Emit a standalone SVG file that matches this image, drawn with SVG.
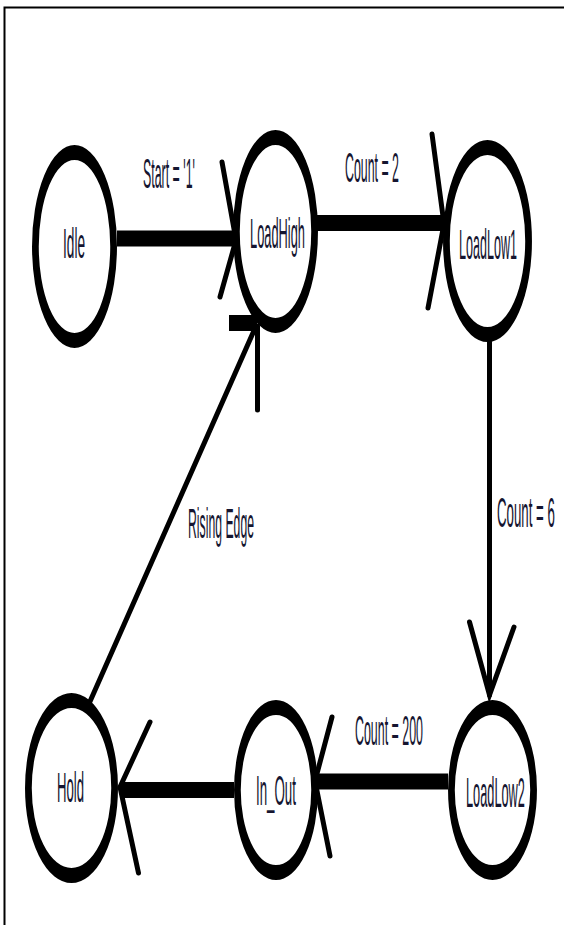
<svg xmlns="http://www.w3.org/2000/svg" width="564" height="925" viewBox="0 0 564 925">
<style>
.node ellipse{fill:none;stroke:#000;stroke-width:15}
text{font-family:"Liberation Sans",Arial,sans-serif;font-size:42px;fill:#151530}
.bar{stroke:#000;stroke-width:16;fill:none}
.ln{stroke:#000;stroke-width:5;fill:none;stroke-linecap:round}
.arm{stroke:#000;stroke-width:5;fill:none;stroke-linecap:round}
</style>
<rect x="0" y="0" width="564" height="925" fill="#fff"/>
<path d="M4.5,925 V7.5 H564" fill="none" stroke="#000" stroke-width="2"/>

<g id="idle" class="node">
<ellipse transform="translate(74.5,246.5) scale(0.45,1)" cx="0" cy="0" rx="86.9" ry="94"/>
<text transform="translate(63,258) scale(0.325,1)">Idle</text>
</g>
<g id="loadhigh" class="node">
<ellipse transform="translate(275.5,231.5) scale(0.45,1)" cx="0" cy="0" rx="86.9" ry="94"/>
<text transform="translate(250,248) scale(0.306,1)">LoadHigh</text>
</g>
<g id="loadlow1" class="node">
<ellipse transform="translate(487.5,241) scale(0.45,1)" cx="0" cy="0" rx="91.3" ry="93.5"/>
<text transform="translate(459,259) scale(0.299,1)">LoadLow1</text>
</g>
<g id="loadlow2" class="node">
<ellipse transform="translate(492.5,790) scale(0.45,1)" cx="0" cy="0" rx="91.3" ry="82.5"/>
<text transform="translate(466,807) scale(0.304,1)">LoadLow2</text>
</g>
<g id="in_out" class="node">
<ellipse transform="translate(276,790) scale(0.45,1)" cx="0" cy="0" rx="85.8" ry="82.5"/>
<text transform="translate(256,805) scale(0.317,1)">In_Out</text>
</g>
<g id="hold" class="node">
<ellipse transform="translate(71.5,788) scale(0.45,1)" cx="0" cy="0" rx="95.8" ry="87.5"/>
<text transform="translate(57,802) scale(0.3125,1)">Hold</text>
</g>

<g id="connectors">
<!-- Idle -> LoadHigh -->
<line class="bar" x1="117" y1="238.5" x2="236" y2="238.5"/>
<polyline class="arm" points="222,162 236,240 220,297"/>
<text transform="translate(143,188) scale(0.295,1)">Start = '1'</text>
<!-- LoadHigh -> LoadLow1 -->
<line class="bar" x1="317" y1="223" x2="444" y2="223"/>
<polyline class="arm" points="432,134 444,224 428,308"/>
<text transform="translate(345,182) scale(0.2946,1)">Count = 2</text>
<!-- LoadLow1 -> LoadLow2 -->
<line class="ln" x1="489.5" y1="342" x2="489.5" y2="695"/>
<polyline class="arm" stroke-width="6" points="469.5,622 489.5,695 514,627"/>
<text transform="translate(497,527) scale(0.316,1)">Count = 6</text>
<!-- LoadLow2 -> In_Out -->
<line class="bar" x1="448" y1="781.5" x2="316" y2="781.5"/>
<polyline class="arm" points="332,717 315,781 330,856"/>
<text transform="translate(355,745) scale(0.2957,1)">Count = 200</text>
<!-- In_Out -> Hold -->
<line class="bar" x1="234" y1="790" x2="120" y2="790"/>
<polyline class="arm" points="150,722 120,787 138.5,873"/>
<!-- Hold -> LoadHigh -->
<line class="ln" stroke-width="7" x1="88" y1="706" x2="256" y2="326"/>
<line class="bar" x1="229" y1="323" x2="257" y2="323"/>
<line class="arm" x1="257.5" y1="326" x2="257.5" y2="410"/>
<text transform="translate(188,538) scale(0.2915,1)">Rising Edge</text>
</g>
</svg>
